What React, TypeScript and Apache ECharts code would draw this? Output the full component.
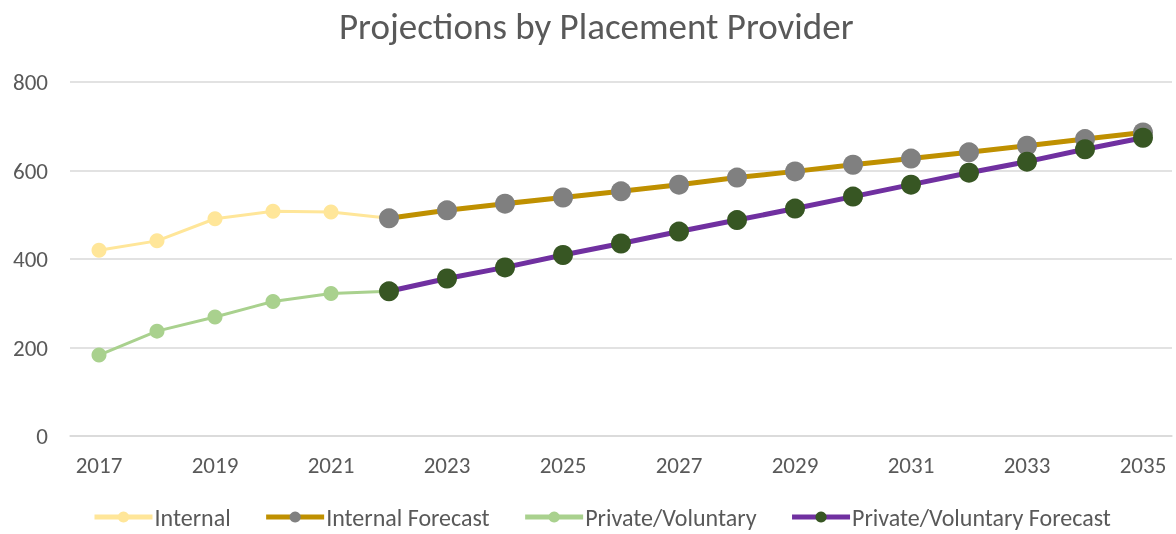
import React, { useEffect, useRef } from "react";
import * as echarts from "echarts";

const years = ["2017","2018","2019","2020","2021","2022","2023","2024","2025","2026","2027","2028","2029","2030","2031","2032","2033","2034","2035"];
const internal = [420, 441, 491, 508, 506, 492, null, null, null, null, null, null, null, null, null, null, null, null, null];
const internalForecast = [null, null, null, null, null, 492, 510, 525, 539, 553, 568, 584, 598, 613, 627, 641, 656, 671, 686];
const privateVol = [183, 237, 269, 304, 322, 327, null, null, null, null, null, null, null, null, null, null, null, null, null];
const privateForecast = [null, null, null, null, null, 327, 356, 381, 409, 435, 462, 488, 514, 541, 568, 595, 620, 648, 674];

const FONT = "Carlito, Calibri, 'Open Sans', sans-serif";
const TXT = "#595959";

export default function App() {
  const ref = useRef<HTMLDivElement>(null);
  useEffect(() => {
    if (!ref.current) return;
    const chart = echarts.init(ref.current, null, { renderer: "svg" });
    const mk = (name: string, data: any[], line: string, marker: string, lw: number, ss: number) => ({
      name,
      type: "line",
      data,
      symbol: "circle",
      symbolSize: ss,
      showSymbol: true,
      connectNulls: false,
      lineStyle: { color: line, width: lw },
      itemStyle: { color: marker, borderWidth: 0 },
    });
    chart.setOption({
      animation: false,
      textStyle: { fontFamily: FONT },
      title: {
        text: "Projections by Placement Provider",
        left: 339,
        top: 8,
        padding: 0,
        textStyle: { fontFamily: FONT, fontSize: 37, fontWeight: "normal", color: TXT },
      },
      grid: { left: 70, right: 4, top: 82, bottom: 98, containLabel: false },
      xAxis: {
        type: "category",
        data: years,
        boundaryGap: true,
        axisLine: { show: true, lineStyle: { color: "#d9d9d9", width: 1.5 } },
        axisTick: { show: false },
        axisLabel: { interval: 1, color: TXT, fontSize: 23, fontFamily: FONT, margin: 17 },
        splitLine: { show: false },
      },
      yAxis: {
        type: "value",
        min: 0,
        max: 800,
        interval: 200,
        axisLine: { show: false },
        axisTick: { show: false },
        axisLabel: { color: TXT, fontSize: 23, fontFamily: FONT, margin: 22 },
        splitLine: { lineStyle: { color: "#d9d9d9", width: 1.5 } },
      },
      legend: {
        top: 505,
        left: 92,
        padding: 0,
        itemWidth: 58,
        itemHeight: 14,
        itemGap: 33,
        textStyle: { color: TXT, fontSize: 24, fontFamily: FONT, padding: [0, 0, 0, -3] },
        data: [
          { name: "Internal", lineStyle: { width: 5 } },
          { name: "Internal Forecast", lineStyle: { width: 5 } },
          { name: "Private/Voluntary", lineStyle: { width: 5 } },
          { name: "Private/Voluntary Forecast", lineStyle: { width: 5 } },
        ],
      },
      series: [
        mk("Internal", internal, "#FFE699", "#FFE699", 3, 15),
        mk("Internal Forecast", internalForecast, "#BF9000", "#808080", 5, 20),
        mk("Private/Voluntary", privateVol, "#A9D18E", "#A9D18E", 3, 15),
        mk("Private/Voluntary Forecast", privateForecast, "#7030A0", "#375623", 5, 20),
      ],
    });
    return () => chart.dispose();
  }, []);
  return <div ref={ref} style={{ position: "fixed", left: 0, top: 0, width: 1176, height: 534 }} />;
}
